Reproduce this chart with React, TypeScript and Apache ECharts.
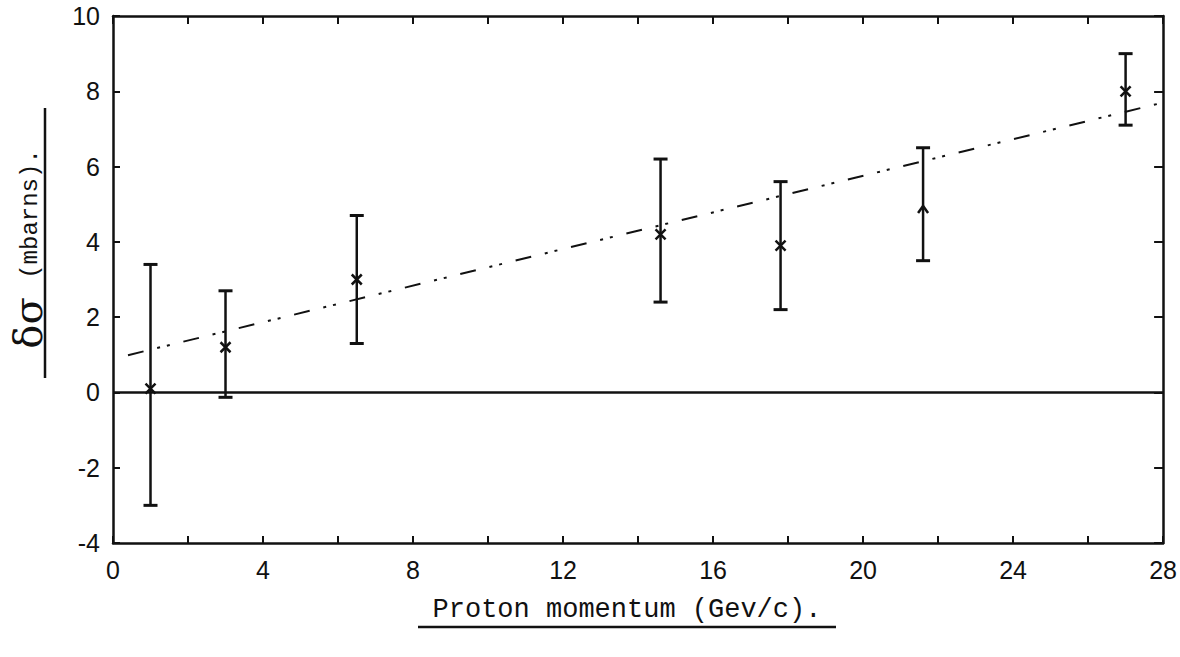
import React, { useEffect, useRef } from "react";
import * as echarts from "echarts";

// Data
const momentum = [1.0, 3.0, 6.5, 14.6, 17.8, 21.6, 27.0];
const deltaSigma = [0.1, 1.2, 3.0, 4.2, 3.9, 4.9, 8.0];
const errLow = [-3.0, -0.13, 1.3, 2.4, 2.2, 3.5, 7.1];
const errHigh = [3.4, 2.7, 4.7, 6.2, 5.6, 6.5, 9.0];
const markerKind = ["x", "x", "x", "x", "x", "^", "x"];
const fitX = [0.4, 28];
const fitY = [0.99, 7.7];
const zeroX = [0, 28];
const zeroY = [0, 0];

const INK = "#111";

export default function App() {
  const ref = useRef<HTMLDivElement>(null);

  useEffect(() => {
    if (!ref.current) return;
    const chart = echarts.init(ref.current, null, { renderer: "svg" });

    const pointData = momentum.map((x, i) => [x, deltaSigma[i], errLow[i], errHigh[i], i]);

    const axisCommon = {
      axisLine: { show: true, onZero: false, lineStyle: { color: INK, width: 2.5 } },
      splitLine: { show: false },
    };

    const option: any = {
      animation: false,
      backgroundColor: "#fff",
      grid: { left: 113, right: 8, top: 16, bottom: 114, containLabel: false },
      xAxis: [
        {
          type: "value",
          position: "bottom",
          min: 0,
          max: 28,
          interval: 4,
          ...axisCommon,
          axisTick: { show: true, inside: true, length: 7, lineStyle: { color: INK, width: 2 } },
          minorTick: { show: true, splitNumber: 2, length: 7, lineStyle: { color: INK, width: 2 } },
          minorSplitLine: { show: false },
          axisLabel: {
            fontSize: 25,
            color: INK,
            margin: 14,
            fontFamily: "Liberation Sans",
          },
        },
        {
          type: "value",
          position: "top",
          min: 0,
          max: 28,
          interval: 4,
          ...axisCommon,
          axisTick: { show: true, inside: true, length: 8, lineStyle: { color: INK, width: 2 } },
          minorTick: { show: true, splitNumber: 2, length: 8, lineStyle: { color: INK, width: 2 } },
          minorSplitLine: { show: false },
          axisLabel: { show: false },
        },
      ],
      yAxis: [
        {
          type: "value",
          position: "left",
          min: -4,
          max: 10,
          interval: 2,
          ...axisCommon,
          axisTick: { show: true, inside: true, length: 7, lineStyle: { color: INK, width: 2 } },
          axisLabel: {
            fontSize: 25,
            color: INK,
            margin: 13,
            fontFamily: "Liberation Sans",
          },
        },
        {
          type: "value",
          position: "right",
          min: -4,
          max: 10,
          interval: 2,
          ...axisCommon,
          axisTick: { show: true, inside: true, length: 9, lineStyle: { color: INK, width: 2 } },
          axisLabel: { show: false },
        },
      ],
      series: [
        {
          type: "line",
          data: zeroX.map((x, i) => [x, zeroY[i]]),
          symbol: "none",
          lineStyle: { color: INK, width: 2.5 },
          silent: true,
          z: 2,
        },
        {
          type: "line",
          data: fitX.map((x, i) => [x, fitY[i]]),
          symbol: "none",
          lineStyle: { color: INK, width: 2, type: [16, 14, 3, 7, 3, 14] },
          silent: true,
          z: 2,
        },
        {
          type: "custom",
          data: pointData,
          encode: { x: 0, y: [1, 2, 3] },
          z: 3,
          renderItem: (params: any, api: any) => {
            const x = api.value(0);
            const c = api.coord([x, api.value(1)]);
            const lo = api.coord([x, api.value(2)]);
            const hi = api.coord([x, api.value(3)]);
            const idx = api.value(4);
            const style = { stroke: INK, lineWidth: 2.5 };
            const cap = 7;
            const children: any[] = [
              { type: "line", shape: { x1: c[0], y1: lo[1], x2: c[0], y2: hi[1] }, style },
              { type: "line", shape: { x1: c[0] - cap, y1: lo[1], x2: c[0] + cap, y2: lo[1] }, style: { stroke: INK, lineWidth: 3 } },
              { type: "line", shape: { x1: c[0] - cap, y1: hi[1], x2: c[0] + cap, y2: hi[1] }, style: { stroke: INK, lineWidth: 3 } },
            ];
            const m = 5;
            if (markerKind[idx] === "^") {
              children.push({
                type: "polyline",
                shape: { points: [[c[0] - m, c[1] + m], [c[0], c[1] - 2], [c[0] + m, c[1] + m]] },
                style: { stroke: INK, lineWidth: 2.5, fill: "none" },
              });
            } else {
              children.push(
                { type: "line", shape: { x1: c[0] - m, y1: c[1] - m, x2: c[0] + m, y2: c[1] + m }, style },
                { type: "line", shape: { x1: c[0] - m, y1: c[1] + m, x2: c[0] + m, y2: c[1] - m }, style }
              );
            }
            return { type: "group", children };
          },
        },
      ],
      graphic: [
        {
          type: "text",
          x: 28,
          y: 323,
          rotation: Math.PI / 2,
          style: {
            text: "δσ",
            align: "center",
            verticalAlign: "middle",
            fontSize: 40,
            fontFamily: "DejaVu Serif",
            fill: INK,
          },
        },
        {
          type: "text",
          x: 30,
          y: 214,
          rotation: Math.PI / 2,
          style: {
            text: "(mbarns).",
            align: "center",
            verticalAlign: "middle",
            fontSize: 24,
            fontFamily: "Liberation Mono",
            fill: INK,
          },
        },
        {
          type: "line",
          shape: { x1: 45, y1: 108, x2: 45, y2: 378 },
          style: { stroke: INK, lineWidth: 2.5 },
        },
        {
          type: "text",
          x: 627,
          y: 610,
          style: {
            text: "Proton momentum (Gev/c).",
            align: "center",
            verticalAlign: "middle",
            fontSize: 27,
            fontFamily: "Liberation Mono",
            fill: INK,
          },
        },
        {
          type: "line",
          shape: { x1: 418, y1: 627, x2: 836, y2: 627 },
          style: { stroke: INK, lineWidth: 2.5 },
        },
      ],
    };

    chart.setOption(option);
    return () => chart.dispose();
  }, []);

  return (
    <div
      ref={ref}
      style={{ position: "absolute", left: 0, top: 0, width: 1180, height: 657, background: "#fff" }}
    />
  );
}
